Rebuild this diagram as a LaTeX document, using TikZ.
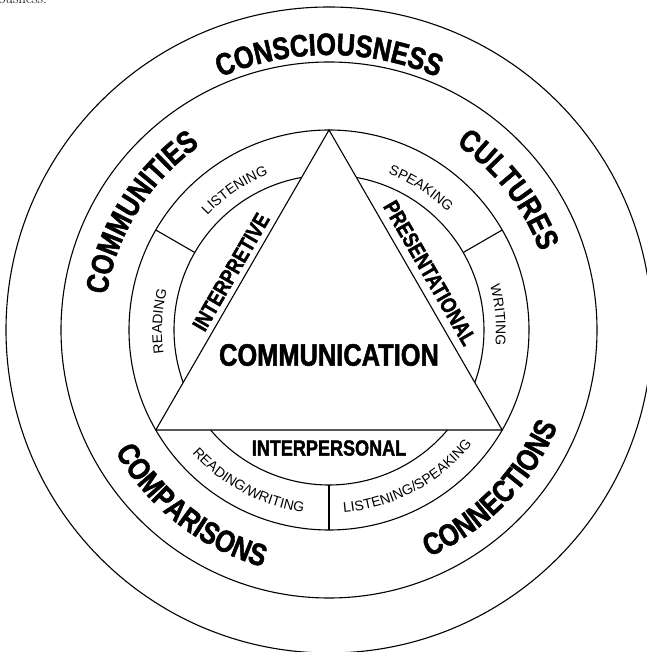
\documentclass[tikz,border=0pt]{standalone}
\usepackage{fontspec}
\usepackage{tikz}
\usetikzlibrary{decorations.text}
\newfontfamily\heavyfont[FakeStretch=0.82,FakeBold=1.6]{Liberation Sans}
\newfontfamily\plainfont{Liberation Sans}
\newcommand\ringlabel{\heavyfont\bfseries\fontsize{31}{31}\selectfont}
\newcommand\modelabel{\heavyfont\bfseries\fontsize{22}{22}\selectfont}
\newcommand\skilllabel{\plainfont\fontsize{14}{14}\selectfont}

\begin{document}
\begin{tikzpicture}[x=1pt,y=1pt,line width=1.1pt,
  ring/.style={decorate,decoration={text along path,text align=center,text={|\ringlabel|#1}}},
  skill/.style={decorate,decoration={text along path,text align=center,text={|\skilllabel|#1}}},
  mode/.style={font=\modelabel,inner sep=0pt}]
\useasboundingbox (-329,-322) rectangle (317,330);
\node[anchor=base west,inner sep=0pt,font=\fontsize{15}{15}\selectfont] (frag) at (-331,326) {ousness.};
% circles
\draw (0,0) circle[radius=323];
\draw (0,0) circle[radius=268];
\draw (0,0) circle[radius=200];
% triangle
\coordinate (apex) at (90:200);
\coordinate (left) at (210:200);
\coordinate (right) at (330:200);
\draw (apex) -- (left) -- (right) -- cycle;
% inner arcs outside the triangle
\draw (100.2:155) arc[start angle=100.2,end angle=199.8,radius=155];
\draw (-19.8:155) arc[start angle=-19.8,end angle=79.8,radius=155];
\draw (220.2:155) arc[start angle=220.2,end angle=319.8,radius=155];
\foreach \a in {30,150,270}
  \draw (\a:155) -- (\a:200);
% outer labels
\path[ring=CONSCIOUSNESS] (140:275) arc[start angle=140,end angle=40,radius=275];
\path[ring=COMMUNITIES] (188:225) arc[start angle=188,end angle=108,radius=225];
\path[ring=CULTURES] (78:225) arc[start angle=78,end angle=-2,radius=225];
\path[ring=COMPARISONS] (192:246) arc[start angle=192,end angle=272,radius=246];
\path[ring=CONNECTIONS] (275.5:248) arc[start angle=275.5,end angle=355.5,radius=248];
% skills
\path[skill=LISTENING] (154:167) arc[start angle=154,end angle=94,radius=167];
\path[skill=SPEAKING] (87:167) arc[start angle=87,end angle=27,radius=167];
\path[skill=READING] (207:167) arc[start angle=207,end angle=147,radius=167];
\path[skill=WRITING] (35:167) arc[start angle=35,end angle=-25,radius=167];
\path[skill=READING/WRITING] (207:184) arc[start angle=207,end angle=277,radius=184];
\path[skill=LISTENING/SPEAKING] (263:183) arc[start angle=263,end angle=333,radius=183];
% modes
\node[mode,rotate=60] (interp) at (-98,58) {INTERPRETIVE};
\node[mode,rotate=-60] (pres) at (101,57) {PRESENTATIONAL};
\node[mode] (inter) at (0,-118) {INTERPERSONAL};
\node[font=\ringlabel,inner sep=0pt] (comm) at (0,-25) {COMMUNICATION};
\end{tikzpicture}
\end{document}
